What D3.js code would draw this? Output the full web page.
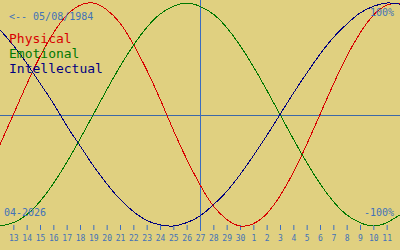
<!DOCTYPE html>
<html>
<head>
<meta charset="utf-8">
<script src="https://d3js.org/d3.v7.min.js"></script>
<style>
  body { margin: 0; background: #e0d080; }
  svg { display: block; font-family: "DejaVu Sans Mono", "Liberation Mono", monospace; }
  .curve { fill: none; stroke-width: 1; shape-rendering: crispEdges; }
</style>
</head>
<body>
<div id="chart"></div>
<script>
// day of month, 12 Apr 2026 .. 12 May 2026
var days = [12, 13, 14, 15, 16, 17, 18, 19, 20, 21, 22, 23, 24, 25, 26, 27, 28, 29, 30,
            1, 2, 3, 4, 5, 6, 7, 8, 9, 10, 11, 12];

var physical = [-0.27, 0, 0.27, 0.52, 0.73, 0.89, 0.98, 1.00, 0.94, 0.82, 0.63, 0.40, 0.14,
                -0.14, -0.40, -0.63, -0.82, -0.94, -1.00, -0.98, -0.89, -0.73, -0.52, -0.27,
                0, 0.27, 0.52, 0.73, 0.89, 0.98, 1.00];

var emotional = [-1.00, -0.97, -0.90, -0.78, -0.62, -0.43, -0.22, 0, 0.22, 0.43, 0.62, 0.78,
                 0.90, 0.97, 1.00, 0.97, 0.90, 0.78, 0.62, 0.43, 0.22, 0, -0.22, -0.43,
                 -0.62, -0.78, -0.90, -0.97, -1.00, -0.97, -0.90];

var intellectual = [0.76, 0.62, 0.46, 0.28, 0.10, -0.10, -0.28, -0.46, -0.62, -0.76, -0.87,
                    -0.95, -0.99, -1.00, -0.97, -0.91, -0.81, -0.69, -0.54, -0.37, -0.19, 0,
                    0.19, 0.37, 0.54, 0.69, 0.81, 0.91, 0.97, 1.00, 0.99];

var seriesNames = ["Physical", "Emotional", "Intellectual"];
var seriesColors = ["#d80000", "#007800", "#000080"];
var birthLabel = "<-- 05/08/1984";
var monthLabel = "04-2026";
var todayIndex = 15;   // the 27th

var width = 400, height = 250;
var axisBlue = "#3a6cc0";
var textBlue = "#4272b8";

var svg = d3.select("#chart").append("svg")
    .attr("width", width)
    .attr("height", height);

svg.append("rect")
    .attr("width", width).attr("height", height)
    .style("fill", "#e0d080");

var x = d3.scaleLinear().domain([0, days.length - 1]).range([0, width]);
var y = d3.scaleLinear().domain([-1, 1]).range([226, 3]);

// zero line
svg.append("line")
    .attr("x1", 0).attr("x2", width)
    .attr("y1", Math.round(y(0)) + 0.5).attr("y2", Math.round(y(0)) + 0.5)
    .style("stroke", "#3c68a8")
    .style("stroke-width", 1);

// day ticks
var tickIdx = d3.range(1, days.length - 1);
var axis = d3.axisBottom(x)
    .tickValues(tickIdx)
    .tickSize(5)
    .tickPadding(5)
    .tickFormat(function(i) { return days[i]; });

var gAxis = svg.append("g")
    .attr("transform", "translate(0,225)")
    .call(axis);
gAxis.select(".domain").remove();
gAxis.selectAll("line").style("stroke", axisBlue);
gAxis.selectAll("text")
    .style("fill", textBlue)
    .style("font-size", "8px")
    .style("font-family", "DejaVu Sans Mono, monospace");

// today marker
svg.append("line")
    .attr("x1", Math.round(x(todayIndex)) + 0.5).attr("x2", Math.round(x(todayIndex)) + 0.5)
    .attr("y1", 0).attr("y2", 231)
    .style("stroke", axisBlue)
    .style("stroke-width", 1);

var line = d3.line()
    .x(function(d, i) { return x(i); })
    .y(function(d) { return y(d); })
    .curve(d3.curveNatural);

[physical, emotional, intellectual].forEach(function(s, k) {
  svg.append("path")
      .attr("class", "curve")
      .attr("d", line(s))
      .style("stroke", seriesColors[k]);
});

// labels
svg.append("text")
    .attr("x", 9).attr("y", 20)
    .style("font-size", "10px")
    .style("fill", textBlue)
    .text(birthLabel);

svg.selectAll(".legend")
    .data(seriesNames)
    .enter().append("text")
    .attr("class", "legend")
    .attr("x", 9)
    .attr("y", function(d, i) { return 43 + i * 15; })
    .style("font-size", "13px")
    .style("fill", function(d, i) { return seriesColors[i]; })
    .text(function(d) { return d; });

svg.append("text")
    .attr("x", 394).attr("y", 16)
    .attr("text-anchor", "end")
    .style("font-size", "10px")
    .style("fill", textBlue)
    .text("100%");

svg.append("text")
    .attr("x", 394).attr("y", 216)
    .attr("text-anchor", "end")
    .style("font-size", "10px")
    .style("fill", textBlue)
    .text("-100%");

svg.append("text")
    .attr("x", 4).attr("y", 216)
    .style("font-size", "10px")
    .style("fill", textBlue)
    .text(monthLabel);
</script>
</body>
</html>
